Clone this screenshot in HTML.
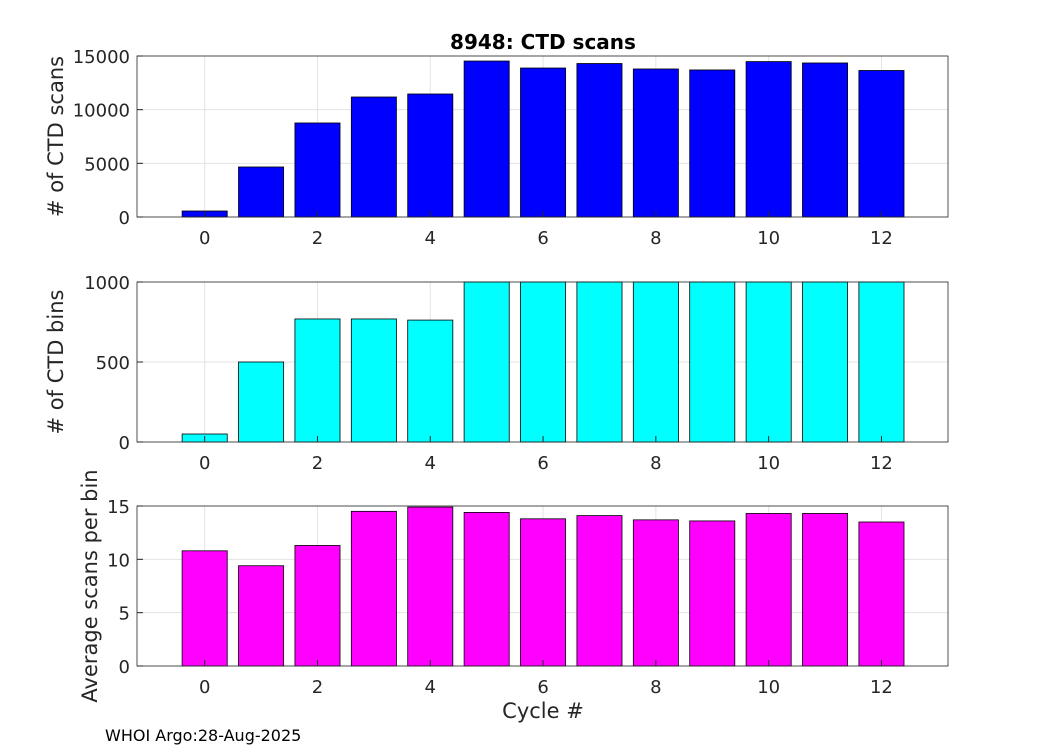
<!DOCTYPE html>
<html><head><meta charset="utf-8"><style>
body{margin:0;background:#fff;}
text{font-family:"DejaVu Sans","Liberation Sans",sans-serif;}
</style></head><body>
<svg id="chart" width="1050" height="750" xmlns="http://www.w3.org/2000/svg">
<rect width="1050" height="750" fill="#fff"/>
<text x="543" y="49" text-anchor="middle" font-size="20" font-weight="bold">8948: CTD scans</text>
<text x="105" y="741" font-size="16">WHOI Argo:28-Aug-2025</text>
<text x="543" y="718" text-anchor="middle" font-size="21" fill="#262626">Cycle #</text>
</svg>
<script>
const cycles=[0,1,2,3,4,5,6,7,8,9,10,11,12];
const scans=[560,4660,8760,11180,11460,14530,13880,14300,13790,13700,14480,14350,13650];
const bins=[50,500,769,769,762,1000,1000,1000,1000,1000,1000,1000,1000];
const avgScans=[10.8,9.4,11.3,14.5,14.9,14.4,13.8,14.1,13.7,13.6,14.3,14.3,13.5];
const xTicks=[0,2,4,6,8,10,12];
const yTicks1=[0,5000,10000,15000];
const yTicks2=[0,500,1000];
const yTicks3=[0,5,10,15];
const svg=document.getElementById('chart');
const NS='http://www.w3.org/2000/svg';
const L=137,R=948,xmin=-1.2,xmax=13.18;
const X=v=>L+(v-xmin)/(xmax-xmin)*(R-L);
function mk(tag,attrs,parent){const e=document.createElementNS(NS,tag);for(const k in attrs)e.setAttribute(k,attrs[k]);(parent||svg).appendChild(e);return e;}
function panel(id,top,bot,ymax,vals,yt,color,label){
  const g=mk('g',{});
  
  
  const Y=v=>bot-Math.min(v,ymax)/ymax*(bot-top);
  mk('rect',{x:L,y:top,width:R-L,height:bot-top,fill:'#fff'},g);
  xTicks.forEach(t=>{const l=mk('line',{x1:X(t),x2:X(t),y1:top,y2:bot,stroke:'#e3e3e3','stroke-width':1},g);
    });
  yt.forEach(t=>{const l=mk('line',{x1:L,x2:R,y1:Y(t),y2:Y(t),stroke:'#e3e3e3','stroke-width':1},g);
    });
  vals.forEach((v,i)=>{const c=cycles[i];const r=mk('rect',{x:X(c-0.4),y:Y(v),width:X(c+0.4)-X(c-0.4),height:bot-Y(v),fill:color,stroke:'#000','stroke-width':0.8},g);
    });
  mk('rect',{x:L,y:top,width:R-L,height:bot-top,fill:'none',stroke:'#262626','stroke-width':0.8},g);
  xTicks.forEach(t=>{mk('line',{x1:X(t),x2:X(t),y1:bot,y2:bot-6,stroke:'#262626'},g);
    const tx=mk('text',{x:X(t),y:bot+27,'text-anchor':'middle','font-size':18,fill:'#262626'},g);tx.textContent=t;
    });
  yt.forEach(t=>{mk('line',{x1:L,x2:L+6,y1:Y(t),y2:Y(t),stroke:'#262626'},g);
    const tx=mk('text',{x:L-7,y:Y(t)+7,'text-anchor':'end','font-size':18,fill:'#262626'},g);tx.textContent=t;
    });
  const mid=(top+bot)/2;
  const yl=mk('text',{x:0,y:0,transform:`translate(${id==='avg'?97:63},${mid}) rotate(-90)`,'text-anchor':'middle','font-size':21,fill:'#262626'},g);
  yl.textContent=label;
  
}
panel('scans',56,217,15000,scans,yTicks1,'#0000ff','# of CTD scans');
panel('bins',282,442,1000,bins,yTicks2,'#00ffff','# of CTD bins');
panel('avg',506,666,15,avgScans,yTicks3,'#ff00ff','Average scans per bin');
</script>
</body></html>
